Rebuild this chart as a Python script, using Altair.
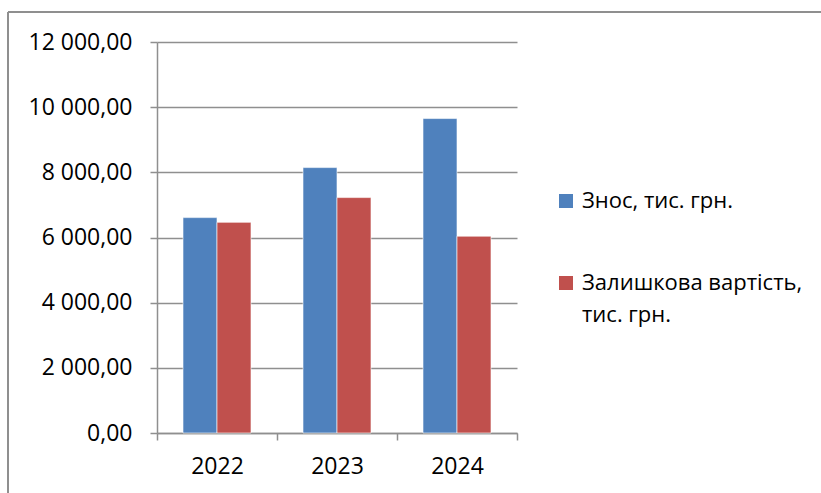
import altair as alt
import pandas as pd

years = ["2022", "2023", "2024"]
series = ["Знос, тис. грн.", "Залишкова вартість, тис. грн."]
depreciation = [6610, 8145, 9650]
residual = [6465, 7225, 6040]
colors = ["#4F81BD", "#C0504D"]

rows = []
for i, y in enumerate(years):
    rows.append({"year": y, "series": series[0], "value": depreciation[i]})
    rows.append({"year": y, "series": series[1], "value": residual[i]})
df = pd.DataFrame(rows)

FONT = "Open Sans"
GRID = "#8f8f8f"

bars = alt.Chart(df).mark_bar(stroke="white", strokeWidth=0.6).encode(
    x=alt.X(
        "year:N",
        title=None,
        scale=alt.Scale(paddingInner=0, paddingOuter=0),
        axis=alt.Axis(
            labelAngle=0,
            tickBand="extent",
            tickSize=7,
            tickColor=GRID,
            domainColor=GRID,
            domainWidth=1.5,
            tickWidth=1.5,
            labelPadding=15,
            labelFont=FONT,
            labelFontSize=23,
            labelColor="#000000",
        ),
    ),
    xOffset=alt.XOffset(
        "series:N",
        sort=series,
        scale=alt.Scale(paddingInner=0, paddingOuter=0.765),
    ),
    y=alt.Y(
        "value:Q",
        title=None,
        scale=alt.Scale(domain=[0, 12000]),
        axis=alt.Axis(
            values=[0, 2000, 4000, 6000, 8000, 10000, 12000],
            # "12 000,00": space as thousands separator, comma as decimal mark
            labelExpr="replace(replace(format(datum.value, ',.2f'), /,/g, ' '), '.', ',')",
            grid=True,
            gridColor=GRID,
            gridWidth=1.5,
            tickSize=7,
            tickColor=GRID,
            tickWidth=1.5,
            domainColor=GRID,
            domainWidth=1.5,
            labelPadding=18,
            labelFont=FONT,
            labelFontSize=23,
            labelColor="#000000",
        ),
    ),
    color=alt.Color(
        "series:N",
        sort=series,
        scale=alt.Scale(domain=series, range=colors),
        legend=alt.Legend(
            title=None,
            orient="none",
            legendX=398,
            legendY=148,
            symbolType="square",
            symbolSize=196,
            symbolStrokeWidth=0,
            labelFont=FONT,
            labelFontSize=22,
            labelColor="#000000",
            labelLimit=400,
            labelOffset=5,
            rowPadding=60,
            labelExpr="datum.label == 'Залишкова вартість, тис. грн.' ? ['Залишкова вартість,', 'тис. грн.'] : datum.label",
        ),
    ),
)

# outer frame lines of the chart area
frame_left = alt.Chart(df).mark_rule(color=GRID, strokeWidth=1.5, clip=False).encode(
    x=alt.value(-149), y=alt.value(-30), y2=alt.value(460)
)
frame_top = alt.Chart(df).mark_rule(color=GRID, strokeWidth=1.5, clip=False).encode(
    x=alt.value(-149), x2=alt.value(680), y=alt.value(-30)
)

chart = (
    alt.layer(bars, frame_left, frame_top)
    .properties(
        width=360,
        height=391,
        autosize=alt.AutoSizeParams(type="none"),
        padding={"left": 157, "top": 42, "right": 304, "bottom": 60},
        background="white",
    )
    .configure(
        view=alt.ViewConfig(stroke=None),
        style={"guide-label": {"lineHeight": 32}},
    )
)

chart.save("out.html", embed_options={"renderer": "svg", "actions": False})
